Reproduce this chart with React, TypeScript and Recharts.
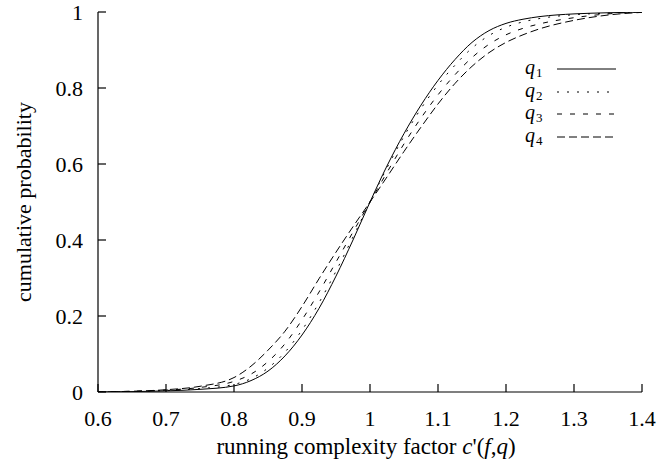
import React from 'react';
import { LineChart, Line, XAxis, YAxis } from 'recharts';

const xValues = [0.6, 0.65, 0.7, 0.75, 0.8, 0.825, 0.85, 0.875, 0.9, 0.925, 0.95, 0.975, 1.0, 1.025, 1.05, 1.075, 1.1, 1.125, 1.15, 1.175, 1.2, 1.225, 1.25, 1.3, 1.35, 1.4];
const q1Values = [0.0, 0.001, 0.003, 0.007, 0.016, 0.03, 0.055, 0.095, 0.15, 0.22, 0.305, 0.4, 0.5, 0.595, 0.68, 0.755, 0.82, 0.875, 0.92, 0.951, 0.97, 0.981, 0.988, 0.995, 0.998, 1.0];
const q2Values = [0.0, 0.001, 0.004, 0.009, 0.02, 0.035, 0.063, 0.105, 0.163, 0.235, 0.318, 0.408, 0.5, 0.59, 0.673, 0.746, 0.808, 0.86, 0.905, 0.938, 0.96, 0.974, 0.983, 0.993, 0.997, 1.0];
const q3Values = [0.0, 0.002, 0.005, 0.012, 0.028, 0.047, 0.08, 0.127, 0.19, 0.263, 0.342, 0.421, 0.5, 0.578, 0.653, 0.721, 0.782, 0.835, 0.88, 0.915, 0.94, 0.957, 0.969, 0.985, 0.995, 1.0];
const q4Values = [0.0, 0.002, 0.006, 0.015, 0.038, 0.068, 0.11, 0.16, 0.225, 0.298, 0.368, 0.435, 0.5, 0.566, 0.633, 0.697, 0.758, 0.812, 0.857, 0.893, 0.92, 0.94, 0.956, 0.978, 0.992, 0.999];

const xTicks = [0.6, 0.7, 0.8, 0.9, 1.0, 1.1, 1.2, 1.3, 1.4];
const yTicks = [0, 0.2, 0.4, 0.6, 0.8, 1];

const seriesNames = ['q1', 'q2', 'q3', 'q4'];
const seriesSubs = ['1', '2', '3', '4'];
const seriesDash = ['', '2 8', '5 8', '8 4'];

const data = xValues.map((x, i) => ({ x, q1: q1Values[i], q2: q2Values[i], q3: q3Values[i], q4: q4Values[i] }));

const FONT = '"Liberation Serif", "Times New Roman", serif';
const TICK_FS = 22;

const fmt = (v: number) => String(Math.round(v * 10) / 10);

const BottomTick = (props: any) => {
  const { x, y, payload } = props;
  return (
    <g>
      <line x1={x} y1={y} x2={x} y2={y - 8} stroke="#000" strokeWidth={1.2} />
      <text x={x} y={y + 34} textAnchor="middle" fontSize={TICK_FS} fontFamily={FONT} fill="#000">{fmt(payload.value)}</text>
    </g>
  );
};
const TopTick = (props: any) => {
  const { x, y } = props;
  return <line x1={x} y1={y} x2={x} y2={y + 8} stroke="#000" strokeWidth={1.2} />;
};
const LeftTick = (props: any) => {
  const { x, y, payload } = props;
  return (
    <g>
      <line x1={x} y1={y} x2={x + 8} y2={y} stroke="#000" strokeWidth={1.2} />
      <text x={x - 15} y={y + 7.5} textAnchor="end" fontSize={TICK_FS} fontFamily={FONT} fill="#000">{fmt(payload.value)}</text>
    </g>
  );
};
const RightTick = (props: any) => {
  const { x, y } = props;
  return <line x1={x} y1={y} x2={x - 8} y2={y} stroke="#000" strokeWidth={1.2} />;
};

export default function App() {
  const legendX = 525;
  const legendY = [69, 92, 114, 137];
  return (
    <div style={{ position: 'absolute', left: 0, top: 0, width: 657, height: 471, background: '#fff' }}>
      <LineChart width={657} height={471} data={data} margin={{ top: 12, right: 15, bottom: 29, left: 0 }}>
        <XAxis xAxisId={0} dataKey="x" type="number" domain={[0.6, 1.4]} ticks={xTicks} tick={BottomTick} tickLine={false} tickSize={0} tickMargin={0} height={50} axisLine={{ stroke: '#000', strokeWidth: 1.2 }} allowDataOverflow />
        <XAxis xAxisId="top" dataKey="x" type="number" orientation="top" domain={[0.6, 1.4]} ticks={xTicks} tick={TopTick} tickLine={false} tickSize={0} tickMargin={0} height={0} axisLine={{ stroke: '#000', strokeWidth: 1.2 }} allowDataOverflow />
        <YAxis yAxisId={0} type="number" domain={[0, 1]} ticks={yTicks} tick={LeftTick} tickLine={false} tickSize={0} tickMargin={0} width={98} axisLine={{ stroke: '#000', strokeWidth: 1.2 }} allowDataOverflow />
        <YAxis yAxisId="right" orientation="right" type="number" domain={[0, 1]} ticks={yTicks} tick={RightTick} tickLine={false} tickSize={0} tickMargin={0} width={0} axisLine={{ stroke: '#000', strokeWidth: 1.2 }} allowDataOverflow />
        {seriesNames.map((k, i) => (
          <Line key={k} xAxisId={0} yAxisId={0} type="monotone" dataKey={k} stroke="#000" strokeWidth={1} strokeDasharray={seriesDash[i] || undefined} dot={false} isAnimationActive={false} />
        ))}
      </LineChart>
      <svg width={657} height={471} style={{ position: 'absolute', left: 0, top: 0, pointerEvents: 'none' }}>
        <text x={366} y={454} textAnchor="middle" fontSize={23} fontFamily={FONT} fill="#000">
          running complexity factor <tspan fontStyle="italic">c</tspan>'(<tspan fontStyle="italic">f</tspan>,<tspan fontStyle="italic">q</tspan>)
        </text>
        <text x={31} y={202} textAnchor="middle" fontSize={22} fontFamily={FONT} fill="#000" transform="rotate(-90 31 202)">cumulative probability</text>
        {seriesNames.map((k, i) => (
          <g key={k}>
            <text x={legendX} y={legendY[i] + 5} fontSize={20} fontFamily={FONT} fontStyle="italic" fill="#000">q</text>
            <text x={legendX + 11} y={legendY[i] + 8} fontSize={13} fontFamily={FONT} fill="#000">{seriesSubs[i]}</text>
            <line x1={557} y1={legendY[i]} x2={616} y2={legendY[i]} stroke="#000" strokeWidth={1} strokeDasharray={seriesDash[i] || undefined} />
          </g>
        ))}
      </svg>
    </div>
  );
}
